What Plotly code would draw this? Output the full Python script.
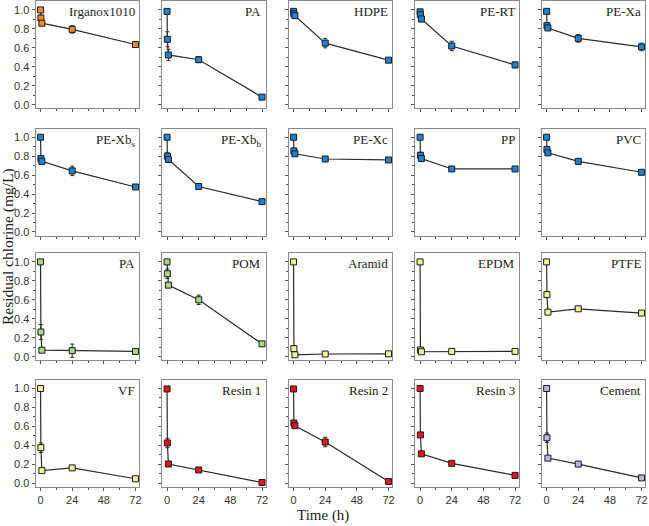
import plotly.graph_objects as go

# ---- data ----
times = [0, 0.25, 1, 24, 72]
panel_names = ["Irganox1010", "PA", "HDPE", "PE-RT", "PE-Xa",
               "PE-Xb<sub>s</sub>", "PE-Xb<sub>b</sub>", "PE-Xc", "PP", "PVC",
               "PA", "POM", "Aramid", "EPDM", "PTFE",
               "VF", "Resin 1", "Resin 2", "Resin 3", "Cement"]
irganox = [1.0, 0.915, 0.86, 0.795, 0.635]
pa1 = [0.985, 0.69, 0.525, 0.475, 0.08]
hdpe = [0.985, 0.96, 0.94, 0.65, 0.47]
pert = [0.98, 0.95, 0.905, 0.62, 0.42]
pexa = [0.985, 0.835, 0.81, 0.70, 0.61]
pexbs = [1.0, 0.775, 0.745, 0.645, 0.475]
pexbb = [1.0, 0.80, 0.765, 0.48, 0.32]
pexc = [1.0, 0.855, 0.825, 0.77, 0.76]
pp = [1.0, 0.81, 0.775, 0.665, 0.665]
pvc = [1.0, 0.87, 0.835, 0.745, 0.63]
pa2 = [1.0, 0.26, 0.068, 0.063, 0.055]
pom = [1.0, 0.875, 0.755, 0.60, 0.135]
aramid = [1.0, 0.085, 0.02, 0.028, 0.03]
epdm = [1.0, 0.07, 0.052, 0.055, 0.055]
ptfe = [1.0, 0.655, 0.47, 0.505, 0.46]
vf = [1.0, 0.375, 0.133, 0.162, 0.047]
resin1 = [0.995, 0.425, 0.203, 0.14, 0.008]
resin2 = [0.995, 0.635, 0.607, 0.435, 0.018]
resin3 = [1.0, 0.51, 0.31, 0.21, 0.083]
cement = [1.0, 0.48, 0.265, 0.202, 0.056]
series = [irganox, pa1, hdpe, pert, pexa, pexbs, pexbb, pexc, pp, pvc,
          pa2, pom, aramid, epdm, ptfe, vf, resin1, resin2, resin3, cement]

err_irganox = [0.01, 0.03, 0.02, 0.04, 0.02]
err_pa1 = [0.01, 0.08, 0.06, 0.03, 0.01]
err_hdpe = [0.01, 0.02, 0.02, 0.05, 0.01]
err_pert = [0.02, 0.02, 0.03, 0.05, 0.03]
err_pexa = [0.01, 0.03, 0.02, 0.04, 0.04]
err_pexbs = [0.01, 0.02, 0.02, 0.05, 0.01]
err_pexbb = [0.01, 0.04, 0.03, 0.01, 0.01]
err_pexc = [0.01, 0.03, 0.02, 0.01, 0.01]
err_pp = [0.01, 0.03, 0.02, 0.01, 0.01]
err_pvc = [0.01, 0.03, 0.02, 0.03, 0.02]
err_pa2 = [0.01, 0.08, 0.02, 0.07, 0.01]
err_pom = [0.01, 0.05, 0.02, 0.05, 0.01]
err_aramid = [0.01, 0.03, 0.02, 0.01, 0.01]
err_epdm = [0.01, 0.03, 0.02, 0.01, 0.01]
err_ptfe = [0.01, 0.03, 0.02, 0.01, 0.01]
err_vf = [0.01, 0.05, 0.02, 0.02, 0.01]
err_resin1 = [0.01, 0.05, 0.02, 0.02, 0.01]
err_resin2 = [0.01, 0.02, 0.02, 0.05, 0.01]
err_resin3 = [0.01, 0.02, 0.02, 0.02, 0.01]
err_cement = [0.01, 0.05, 0.02, 0.02, 0.01]
errors = [err_irganox, err_pa1, err_hdpe, err_pert, err_pexa, err_pexbs, err_pexbb,
          err_pexc, err_pp, err_pvc, err_pa2, err_pom, err_aramid, err_epdm, err_ptfe,
          err_vf, err_resin1, err_resin2, err_resin3, err_cement]

ORANGE, BLUE, GREEN, YELLOW, RED, LAV = "#f5891e", "#2282cc", "#a8dc78", "#f6f08e", "#e8141c", "#c9b0de"
colors = [ORANGE] + [BLUE] * 9 + [GREEN, GREEN, YELLOW, YELLOW, YELLOW, YELLOW, RED, RED, RED, LAV]

x_ticks = [0, 24, 48, 72]
y_ticks = [0.0, 0.2, 0.4, 0.6, 0.8, 1.0]

# ---- layout geometry ----
W, H = 649, 526
col_left = [35.7 + 127.1 * i for i in range(5)]
pw = 104.0
row_zero = [104.3, 232.3, 357.7, 485.0]
scale = 95.3
YR = [-0.04, 1.09]
XR = [-3.8, 74.7]

fig = go.Figure()
layout = dict(width=W, height=H, margin=dict(l=0, r=0, t=0, b=0),
              paper_bgcolor="white", plot_bgcolor="white", showlegend=False)
annotations = []
tickfont = dict(family="Liberation Sans, Arial", size=11, color="#333")
for k in range(20):
    r, c = divmod(k, 5)
    n = k + 1
    xa = "x" if n == 1 else f"x{n}"
    ya = "y" if n == 1 else f"y{n}"
    x0 = col_left[c] / W
    x1 = (col_left[c] + pw) / W
    top = row_zero[r] - YR[1] * scale
    bot = row_zero[r] - YR[0] * scale
    y0 = 1 - bot / H
    y1 = 1 - top / H
    layout["xaxis" if n == 1 else f"xaxis{n}"] = dict(
        domain=[x0, x1], anchor=ya, range=XR, tickvals=x_ticks,
        showticklabels=(r == 3), tickfont=tickfont,
        showline=True, mirror=True, linecolor="#8a8a8a", linewidth=1,
        ticks="outside", ticklen=3, tickcolor="#555", tickwidth=1,
        minor=dict(ticks="outside", ticklen=2, tickcolor="#555", tick0=0, dtick=12),
        showgrid=False, zeroline=False, fixedrange=True)
    layout["yaxis" if n == 1 else f"yaxis{n}"] = dict(
        domain=[y0, y1], anchor=xa, range=YR, tickvals=y_ticks,
        ticktext=[f"{v:.1f}" for v in y_ticks],
        showticklabels=(c == 0), tickfont=tickfont,
        showline=True, mirror=True, linecolor="#8a8a8a", linewidth=1,
        ticks="outside", ticklen=3, tickcolor="#555", tickwidth=1,
        minor=dict(ticks="outside", ticklen=2, tickcolor="#555", tick0=0, dtick=0.1),
        showgrid=False, zeroline=False, fixedrange=True)
    fig.add_trace(go.Scatter(
        x=times, y=series[k], xaxis=xa, yaxis=ya, mode="lines+markers",
        line=dict(color="#2a2a2a", width=1.2),
        marker=dict(symbol="square", size=6, color=colors[k],
                    line=dict(color="#1a1a2a", width=1)),
        error_y=dict(type="data", array=errors[k], visible=True,
                     thickness=1, width=2, color="#2a2a2a"),
        cliponaxis=False))
    annotations.append(dict(
        text=panel_names[k], xref=f"{xa} domain", yref=f"{ya} domain",
        x=0.98, y=0.99, xanchor="right", yanchor="top", showarrow=False,
        font=dict(family="Liberation Serif, Times New Roman", size=13, color="#222")))

annotations.append(dict(text="Residual chlorine (mg/L)", xref="paper", yref="paper",
                        x=7.5 / W, y=1 - 247 / H, textangle=-90, showarrow=False,
                        xanchor="center", yanchor="middle",
                        font=dict(family="Liberation Serif, Times New Roman", size=15.5, color="#222")))
annotations.append(dict(text="Time (h)", xref="paper", yref="paper",
                        x=325 / W, y=1 - 517 / H, showarrow=False,
                        xanchor="center", yanchor="middle",
                        font=dict(family="Liberation Serif, Times New Roman", size=15, color="#222")))
layout["annotations"] = annotations
fig.update_layout(**layout)
fig.write_html("out.html")
